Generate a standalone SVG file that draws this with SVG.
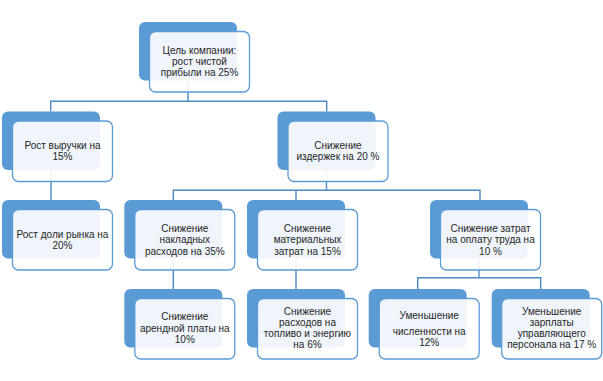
<svg xmlns="http://www.w3.org/2000/svg" width="603" height="381" viewBox="0 0 603 381">
<style>
.bk{fill:#5B9BD5;}
.fr{fill:#FFFFFF;fill-opacity:0.9;stroke:#5B9BD5;stroke-width:1.3;}
.cn{fill:none;stroke:#4F88C6;stroke-width:1.4;}
text{font-family:"Liberation Sans",Arial,sans-serif;font-size:10px;fill:#262626;text-anchor:middle;}
</style>
<rect width="603" height="381" fill="#FFFFFF"/>
<g id="connectors">
<path class="cn" d="M188,80 V101.3 M50.7,111.5 V101.3 H326.7 V111.5"/>
<path class="cn" d="M51,170 V200"/>
<path class="cn" d="M326.5,170 V190.3 M173.3,200 V190.3 H480 V200 M296,190.3 V200"/>
<path class="cn" d="M173.3,258.5 V289"/>
<path class="cn" d="M296,258.5 V289"/>
<path class="cn" d="M479,258.5 V277.7 M417.7,289 V277.7 H540.7 V289"/>
</g>
<g id="n1">
<rect class="bk" x="139" y="22" width="98" height="58.5" rx="6"/>
<rect class="fr" x="149.5" y="31.5" width="100" height="60.5" rx="6"/>
<text x="199.5"><tspan x="199.5" y="54">Цель компании:</tspan><tspan x="199.5" y="65">рост чистой</tspan><tspan x="199.5" y="76">прибыли на 25%</tspan></text>
</g>
<g id="n2">
<rect class="bk" x="2" y="111.5" width="98" height="58.5" rx="6"/>
<rect class="fr" x="12.5" y="121" width="100" height="60.5" rx="6"/>
<text><tspan x="62.5" y="148.5">Рост выручки на</tspan><tspan x="62.5" y="160">15%</tspan></text>
</g>
<g id="n3">
<rect class="bk" x="277.5" y="111.5" width="98" height="58.5" rx="6"/>
<rect class="fr" x="288" y="121" width="100" height="60.5" rx="6"/>
<text><tspan x="338" y="148.5">Снижение</tspan><tspan x="338" y="160">издержек на 20 %</tspan></text>
</g>
<g id="n4">
<rect class="bk" x="2" y="200" width="98" height="58.5" rx="6"/>
<rect class="fr" x="12.5" y="209.5" width="100" height="60.5" rx="6"/>
<text><tspan x="62.5" y="237.5">Рост доли рынка на</tspan><tspan x="62.5" y="249">20%</tspan></text>
</g>
<g id="n5">
<rect class="bk" x="124.3" y="200" width="98" height="58.5" rx="6"/>
<rect class="fr" x="134.8" y="209.5" width="100" height="60.5" rx="6"/>
<text><tspan x="184.8" y="231.5">Снижение</tspan><tspan x="184.8" y="243">накладных</tspan><tspan x="184.8" y="254.5">расходов на 35%</tspan></text>
</g>
<g id="n6">
<rect class="bk" x="247" y="200" width="98" height="58.5" rx="6"/>
<rect class="fr" x="257.5" y="209.5" width="100" height="60.5" rx="6"/>
<text><tspan x="307.5" y="231.5">Снижение</tspan><tspan x="307.5" y="243">материальных</tspan><tspan x="307.5" y="254.5">затрат на 15%</tspan></text>
</g>
<g id="n7">
<rect class="bk" x="430" y="200" width="98" height="58.5" rx="6"/>
<rect class="fr" x="440.5" y="209.5" width="100" height="60.5" rx="6"/>
<text><tspan x="490.5" y="231.5">Снижение затрат</tspan><tspan x="490.5" y="243">на оплату труда на</tspan><tspan x="490.5" y="254.5">10 %</tspan></text>
</g>
<g id="n8">
<rect class="bk" x="124.3" y="289" width="98" height="58.5" rx="6"/>
<rect class="fr" x="134.8" y="298.5" width="100" height="60.5" rx="6"/>
<text><tspan x="184.8" y="319.5">Снижение</tspan><tspan x="184.8" y="331.5">арендной платы на</tspan><tspan x="184.8" y="343">10%</tspan></text>
</g>
<g id="n9">
<rect class="bk" x="247" y="289" width="98" height="58.5" rx="6"/>
<rect class="fr" x="257.5" y="298.5" width="100" height="60.5" rx="6"/>
<text><tspan x="307.5" y="315">Снижение</tspan><tspan x="307.5" y="326">расходов на</tspan><tspan x="307.5" y="337">топливо и энергию</tspan><tspan x="307.5" y="348">на 6%</tspan></text>
</g>
<g id="n10">
<rect class="bk" x="368.7" y="289" width="98" height="58.5" rx="6"/>
<rect class="fr" x="379.2" y="298.5" width="100" height="60.5" rx="6"/>
<text><tspan x="429.2" y="318.5">Уменьшение</tspan><tspan x="429.2" y="335">численности на</tspan><tspan x="429.2" y="346">12%</tspan></text>
</g>
<g id="n11">
<rect class="bk" x="491.7" y="289" width="98" height="58.5" rx="6"/>
<rect class="fr" x="501.7" y="298.5" width="100" height="60.5" rx="6"/>
<text><tspan x="551.7" y="315">Уменьшение</tspan><tspan x="551.7" y="326">зарплаты</tspan><tspan x="551.7" y="337">управляющего</tspan><tspan x="551.7" y="348">персонала на 17 %</tspan></text>
</g>
</svg>
